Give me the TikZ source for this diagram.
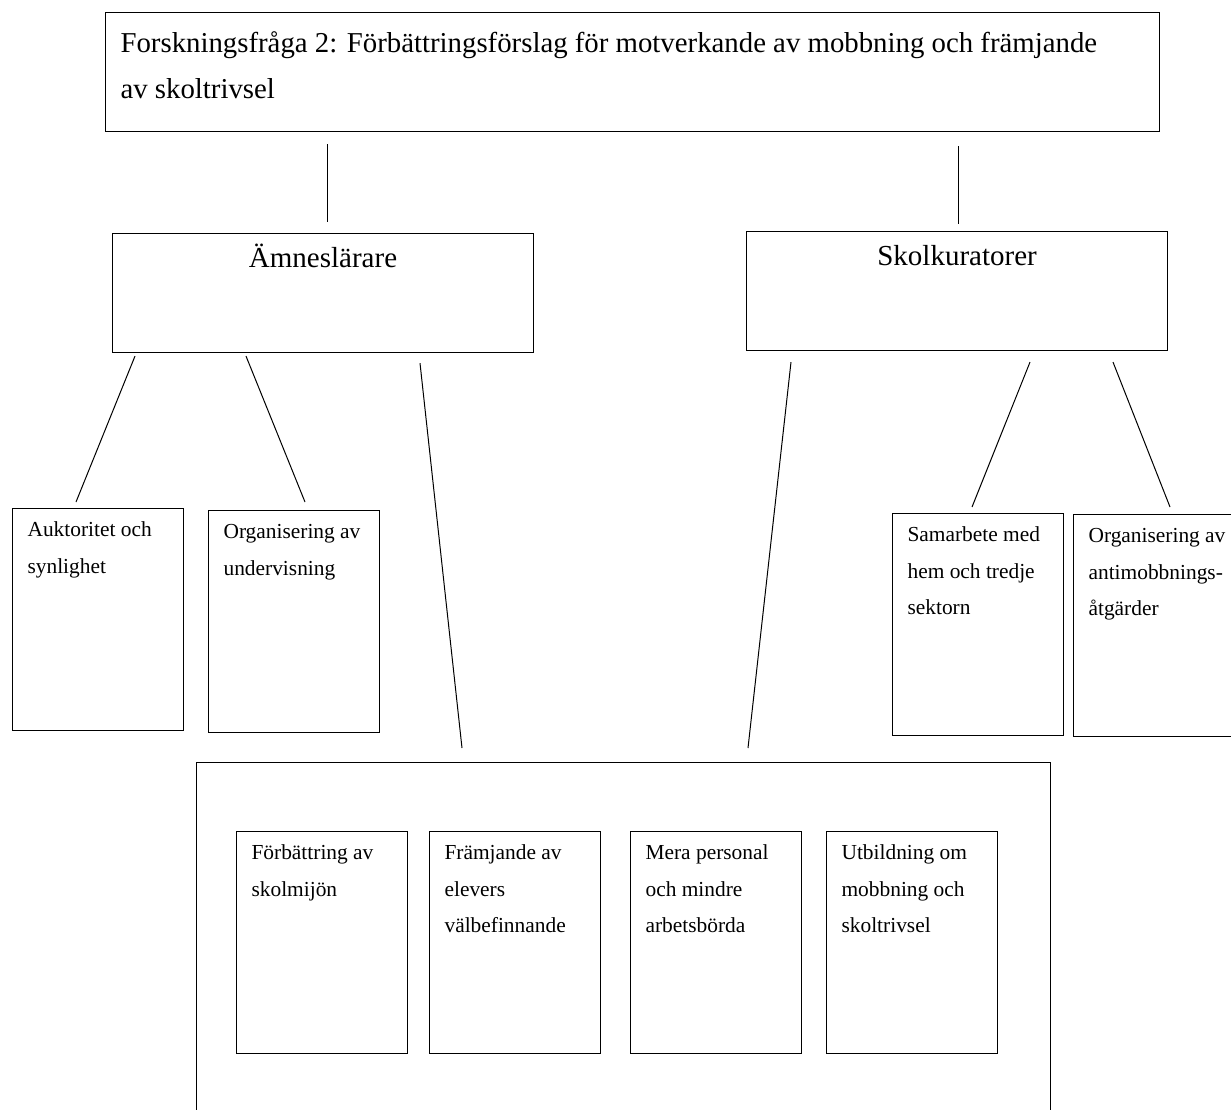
\documentclass[tikz,border=0pt]{standalone}
\usepackage{fontspec}
\setmainfont{Liberation Serif}
\usetikzlibrary{calc}
\newcommand{\cardtext}[1]{\parbox[t][222pt][t]{141pt}{\raggedright\rule{0pt}{28pt}#1}}
\newcommand{\headtext}[1]{\parbox[t][119pt][t]{421pt}{\centering\rule{0pt}{34pt}#1}}
\begin{document}
\begin{tikzpicture}[x=1pt, y=-1pt,
    box/.style={draw, line width=1.1pt, anchor=north west, inner sep=0pt},
    card/.style={box, inner xsep=15pt, font={\fontsize{21.4}{36.6}\selectfont}},
    head/.style={box, font={\fontsize{29}{49}\selectfont}},
    link/.style={line width=1pt}]
  \useasboundingbox (0,0) rectangle (1231,1110);
  \clip (0,0) rectangle (1231,1110);
  \node[head, inner xsep=15pt, font={\fontsize{28.8}{46}\selectfont}] (fraga) at (105,12) {\parbox[t][119pt][t]{1024pt}{\raggedright\rule{0pt}{40pt}Forskningsfråga 2: Förbättringsförslag för motverkande av mobbning och främjande\\av skoltrivsel}};
  \node[head] (amne) at (112,233) {\headtext{Ämneslärare}};
  \node[head] (kurator) at (746,231) {\headtext{Skolkuratorer}};
  \node[card] (aukt) at (12,508) {\cardtext{Auktoritet och\\synlighet}};
  \node[card] (orgund) at (208,510) {\cardtext{Organisering av\\undervisning}};
  \node[card] (samarb) at (892,513) {\cardtext{Samarbete med\\hem och tredje\\sektorn}};
  \node[card] (organt) at (1073,514) {\cardtext{Organisering av\\antimobbnings-\\åtgärder}};
  \node[box, minimum width=854pt, minimum height=420pt] (gemensam) at (196,762) {};
  \node[card] (forb) at (236,831) {\cardtext{Förbättring av\\skolmijön}};
  \node[card] (framj) at (429,831) {\cardtext{Främjande av\\elevers\\välbefinnande}};
  \node[card] (mera) at (630,831) {\cardtext{Mera personal\\och mindre\\arbetsbörda}};
  \node[card] (utb) at (826,831) {\cardtext{Utbildning om\\mobbning och\\skoltrivsel}};
  \draw[link] ($(fraga.south west)+(222,12)$) -- ($(amne.north west)+(215,-11)$);
  \draw[link] ($(fraga.south west)+(853,14)$) -- ($(kurator.north west)+(212,-7)$);
  \draw[link] ($(amne.south west)+(23,3)$) -- ($(aukt.north west)+(64,-6)$);
  \draw[link] ($(amne.south west)+(134,3)$) -- ($(orgund.north west)+(97,-8)$);
  \draw[link] ($(amne.south west)+(308,10)$) -- ($(gemensam.north west)+(266,-14)$);
  \draw[link] ($(kurator.south west)+(45,11)$) -- ($(gemensam.north west)+(552,-14)$);
  \draw[link] ($(kurator.south west)+(284,11)$) -- ($(samarb.north west)+(80,-6)$);
  \draw[link] ($(kurator.south west)+(367,11)$) -- ($(organt.north west)+(97,-7)$);
\end{tikzpicture}
\end{document}
